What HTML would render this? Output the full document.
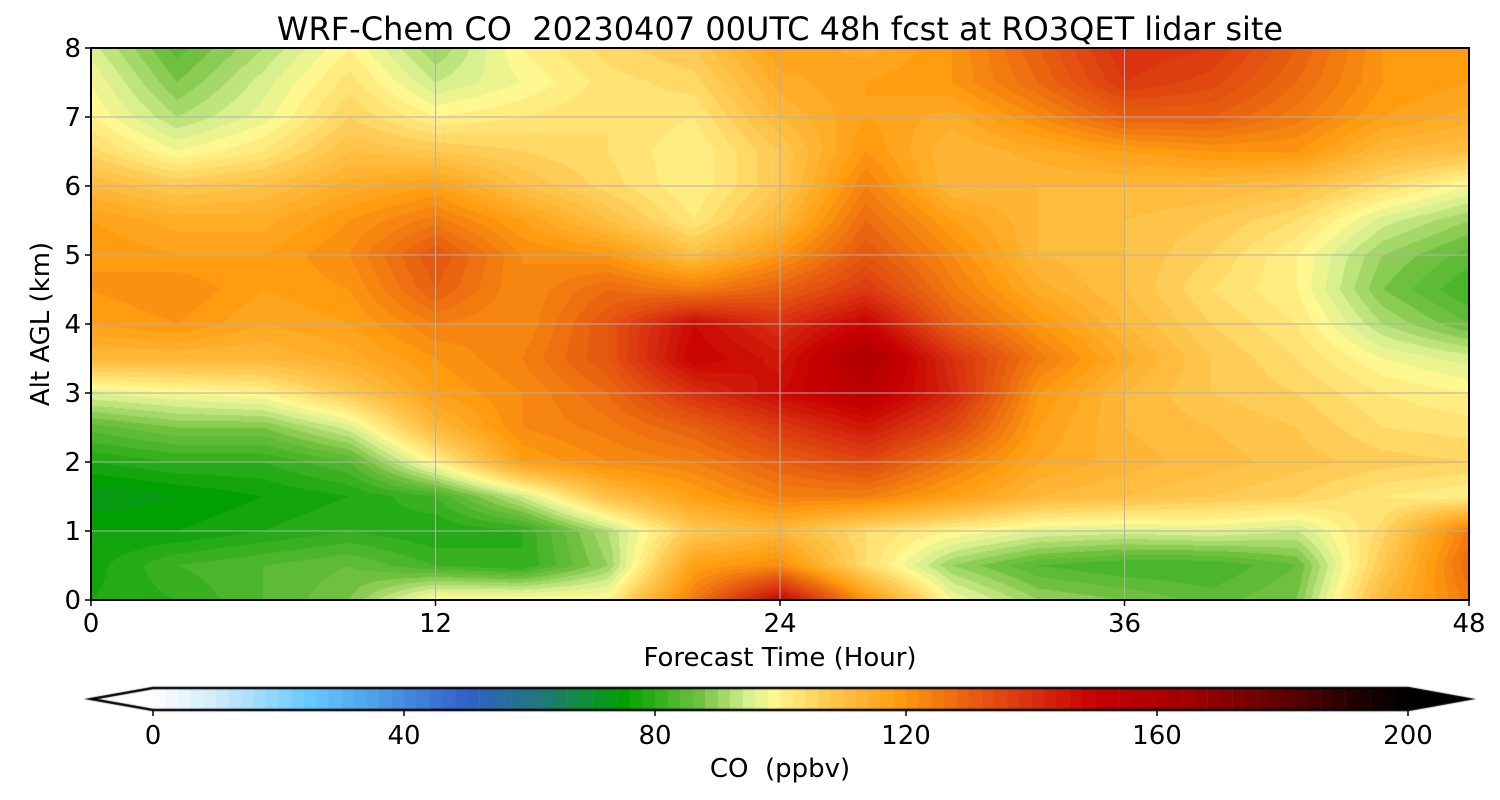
<!DOCTYPE html>
<html><head><meta charset="utf-8">
<style>
body{margin:0;background:#fff;width:1500px;height:800px;overflow:hidden;font-family:"DejaVu Sans",sans-serif;}
#wrap{position:relative;width:1500px;height:800px;}
canvas{position:absolute;}
text{white-space:pre;}
</style></head>
<body>
<div id="wrap">
<canvas id="plot" width="1378" height="552" style="left:91px;top:48px"></canvas>
<canvas id="cbar" width="1500" height="40" style="left:0;top:680px"></canvas>
<svg id="ov" width="1500" height="800" style="position:absolute;left:0;top:0"></svg>
</div>
<script>
const times=[0,3,6,9,12,15,18,21,24,27,30,33,36,39,42,45,48];
const alts=[8,7.5,7,6.5,6,5.5,5,4.5,4,3.5,3,2.5,2,1.5,1,0.5,0];
const co=[
[95,85,92,100,90,100,105,108,118,115,120,130,140,138,130,120,118],
[98,88,95,103,94,98,103,105,115,118,120,128,138,135,128,120,118],
[100,92,97,106,100,102,104,102,112,118,115,122,130,130,125,118,115],
[105,98,102,110,108,106,104,100,108,120,112,115,118,120,120,112,110],
[112,108,110,115,118,110,105,100,108,124,112,112,112,112,110,104,98],
[118,115,115,120,125,118,110,102,112,128,118,112,110,108,104,95,90],
[120,118,118,122,132,122,120,110,120,132,122,112,110,106,100,90,85],
[120,122,118,120,130,122,128,125,130,138,125,115,110,104,100,88,82],
[118,120,116,118,124,122,132,148,140,150,130,120,112,106,102,92,86],
[112,112,112,115,120,124,132,150,145,160,140,125,115,108,104,98,95],
[96,98,100,108,118,122,128,140,148,155,142,120,112,108,106,102,100],
[85,88,88,95,112,122,125,130,138,145,135,118,112,110,108,104,103],
[78,80,80,84,100,118,122,124,130,135,125,116,113,111,109,107,106],
[72,74,76,78,82,94,110,118,124,124,118,112,110,108,106,102,100],
[76,76,78,80,78,80,92,108,112,104,100,96,95,96,94,105,125],
[77,82,84,86,82,80,90,118,122,104,90,84,82,82,86,108,128],
[78,80,84,88,100,100,100,125,150,120,98,90,88,85,88,112,125]];
const xTicks=[0,12,24,36,48];
const yTicks=[0,1,2,3,4,5,6,7,8];
const cbTicks=[0,40,80,120,160,200];
const cmV=[0,10,25,35,50,62,75,87,95,99,108,119,130,140,150,165,180,192,200];
const cmC=["#ffffff","#d0ecfc","#66c8ff","#50a0e8","#3060c8","#207878","#00a000","#70c040","#d8f090","#fff890","#ffc850","#ff9c10","#e86010","#d83010","#c80000","#a00000","#600000","#200000","#000000"];
const X0=91,X1=1469,Y0=48,Y1=600,CB0=153,CB1=1408;
const sx=t=>X0+(t-0)/(48)*(X1-X0);
const sy=a=>Y1-(a/8)*(Y1-Y0);
const cx=v=>CB0+v/200*(CB1-CB0);
function hex(h){return [1,3,5].map(i=>parseInt(h.substr(i,2),16));}
const cmRGB=cmC.map(hex);
function color(v){v=Math.max(0,Math.min(200,v));v=Math.floor(v/2)*2+1;
 for(let i=0;i<cmV.length-1;i++){if(v<=cmV[i+1]){const f=(v-cmV[i])/(cmV[i+1]-cmV[i]);const a=cmRGB[i],b=cmRGB[i+1];return [0,1,2].map(k=>Math.round(a[k]+(b[k]-a[k])*f));}}
 return cmRGB[cmRGB.length-1];}
const pc=document.getElementById('plot').getContext('2d');
const W=1378,H=552,img=pc.createImageData(W,H);
const nT=times.length,nA=alts.length;
for(let py=0;py<H;py++){const a=8-(py+0.5)/H*8;
 let r=Math.min(nA-2,Math.floor((alts[0]-a)/0.5));let fr=((alts[0]-a)-r*0.5)/0.5;
 for(let px=0;px<W;px++){const t=(px+0.5)/W*48;let c=Math.min(nT-2,Math.floor(t/3));let fc=(t-times[c])/3;
  const v=co[r][c]*(1-fr)*(1-fc)+co[r][c+1]*(1-fr)*fc+co[r+1][c]*fr*(1-fc)+co[r+1][c+1]*fr*fc;
  const col=color(v);const i=(py*W+px)*4;img.data[i]=col[0];img.data[i+1]=col[1];img.data[i+2]=col[2];img.data[i+3]=255;}}
pc.putImageData(img,0,0);
const cc=document.getElementById('cbar').getContext('2d');
for(let v=0;v<200;v+=2){const c=color(v+1);cc.fillStyle=`rgb(${c})`;cc.fillRect(cx(v),8,cx(v+2)-cx(v)+0.5,22);}
cc.fillStyle="#fff";cc.beginPath();cc.moveTo(CB0,8);cc.lineTo(91,19);cc.lineTo(CB0,30);cc.fill();
cc.fillStyle="#000";cc.beginPath();cc.moveTo(CB1,8);cc.lineTo(1469,19);cc.lineTo(CB1,30);cc.fill();
cc.strokeStyle="#000";cc.lineWidth=2.5;cc.beginPath();cc.moveTo(CB0,8);cc.lineTo(91,19);cc.lineTo(CB0,30);cc.lineTo(CB1,30);cc.lineTo(1469,19);cc.lineTo(CB1,8);cc.closePath();cc.stroke();
const ov=document.getElementById('ov');const NS="http://www.w3.org/2000/svg";
function el(tag,attrs,parent){const e=document.createElementNS(NS,tag);for(const k in attrs)e.setAttribute(k,attrs[k]);(parent||ov).appendChild(e);return e;}
function txt(x,y,s,size,anchor,name){const e=el('text',{x:x,y:y,'font-size':size,'text-anchor':anchor||'middle','font-family':'DejaVu Sans, sans-serif',fill:'#000'});e.textContent=s;


return e;}
xTicks.forEach(t=>{const g=el('line',{x1:sx(t),x2:sx(t),y1:Y0,y2:Y1,stroke:'#b0b0b0','stroke-width':1});


const k=el('line',{x1:sx(t),x2:sx(t),y1:Y1,y2:Y1+6,stroke:'#000','stroke-width':1.5});


txt(sx(t),Y1+32,String(t),26,'middle','x-tick-label');});
yTicks.forEach(a=>{const g=el('line',{x1:X0,x2:X1,y1:sy(a),y2:sy(a),stroke:'#b0b0b0','stroke-width':1});


const k=el('line',{x1:X0-6,x2:X0,y1:sy(a),y2:sy(a),stroke:'#000','stroke-width':1.5});


txt(X0-10,sy(a)+9,String(a),26,'end','y-tick-label');});
const fr=el('rect',{x:X0,y:Y0,width:X1-X0,height:Y1-Y0,fill:'none',stroke:'#000','stroke-width':2});


cbTicks.forEach(v=>{const k=el('line',{x1:cx(v),x2:cx(v),y1:710,y2:716,stroke:'#000','stroke-width':1.5});


txt(cx(v),744,String(v),26,'middle','colorbar-tick-label');});
txt(780,40,'WRF-Chem CO  20230407 00UTC 48h fcst at RO3QET lidar site',32,'middle','chart-title');
txt(780,666,'Forecast Time (Hour)',26,'middle','x-axis-title');
txt(780,777,'CO  (ppbv)',26,'middle','colorbar-title');
const yt=txt(0,0,'Alt AGL (km)',26,'middle','y-axis-title');yt.setAttribute('transform','translate(49,324) rotate(-90)');
</script>
</body></html>
